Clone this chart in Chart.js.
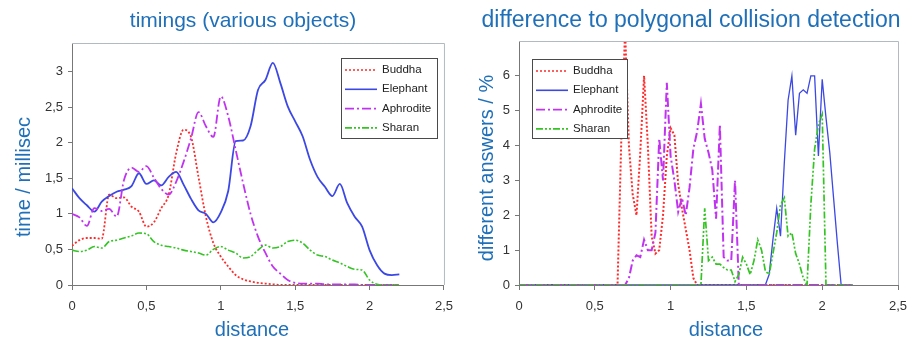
<!DOCTYPE html>
<html>
<head>
<meta charset="utf-8">
<script src="https://cdn.jsdelivr.net/npm/chart.js@4.4.1/dist/chart.umd.min.js"></script>
<style>
  html, body { margin: 0; padding: 0; background: #fff; }
  #wrap { position: relative; width: 924px; height: 342px; }
  canvas { position: absolute; top: 0; }
  #left { left: 0; }
  #right { left: 462px; }
</style>
</head>
<body>
<div id="wrap">
  <canvas id="left" width="462" height="342"></canvas>
  <canvas id="right" width="462" height="342"></canvas>
</div>
<script>
const seriesNames = ['Buddha', 'Elephant', 'Aphrodite', 'Sharan'];
const distanceTicks = [0, 0.5, 1, 1.5, 2, 2.5];
const timingTicks = [0, 0.5, 1, 1.5, 2, 2.5, 3];
const diffTicks = [0, 1, 2, 3, 4, 5, 6];

// left chart: timings, read every 0.05
const timingDistance = [0, 0.05, 0.1, 0.15, 0.2, 0.25, 0.3, 0.35, 0.4, 0.45,
  0.5, 0.55, 0.6, 0.65, 0.7, 0.75, 0.8, 0.85, 0.9, 0.95,
  1, 1.05, 1.1, 1.15, 1.2, 1.25, 1.3, 1.35, 1.4, 1.45,
  1.5, 1.55, 1.6, 1.65, 1.7, 1.75, 1.8, 1.85, 1.9, 1.95,
  2, 2.05, 2.1, 2.15, 2.2];
const timingBuddha = [0.55, 0.63, 0.66, 0.66, 0.65, 1.27, 1.22, 1.23, 1.1, 1.03,
  0.82, 0.88, 1.08, 1.27, 1.85, 2.18, 2.08, 1.52, 0.96, 0.59,
  0.4, 0.26, 0.14, 0.08, 0.05, 0.03, 0.02, 0.01, 0, 0,
  0, 0, 0, 0, 0, 0, 0, 0, 0, 0,
  0, 0, 0, 0, 0];
const timingElephant = [1.36, 1.22, 1.12, 1.03, 1.17, 1.25, 1.31, 1.34, 1.39, 1.57,
  1.42, 1.47, 1.4, 1.52, 1.59, 1.41, 1.21, 1.05, 1.0, 0.88,
  1.02, 1.32, 2.02, 2.03, 2.23, 2.74, 2.88, 3.12, 2.84, 2.51,
  2.3, 2.09, 1.76, 1.52, 1.38, 1.25, 1.42, 1.15, 0.96, 0.82,
  0.49, 0.28, 0.16, 0.14, 0.15];
const timingAphrodite = [1.0, 0.95, 0.83, 1.08, 1.04, 1.07, 0.96, 1.48, 1.65, 1.59,
  1.67, 1.51, 1.35, 1.27, 1.45, 1.73, 2.06, 2.43, 2.23, 2.08,
  2.65, 2.37, 1.9, 1.43, 1.0, 0.68, 0.45, 0.26, 0.16, 0.07,
  0.03, 0.02, 0.02, 0.02, 0.01, 0.01, 0.01, 0.01, 0.01, 0,
  0, 0, 0, 0, 0];
const timingSharan = [0.49, 0.47, 0.49, 0.54, 0.52, 0.61, 0.63, 0.66, 0.69, 0.73,
  0.72, 0.61, 0.56, 0.54, 0.52, 0.49, 0.47, 0.45, 0.42, 0.5,
  0.54, 0.49, 0.45, 0.38, 0.4, 0.49, 0.56, 0.52, 0.54, 0.61,
  0.63, 0.59, 0.49, 0.42, 0.4, 0.35, 0.31, 0.26, 0.22, 0.21,
  0.07, 0.01, 0, 0, 0];

// right chart: % different answers, read every 0.025 from 0.6
const diffDistance = [0,
  0.6, 0.625, 0.65, 0.675, 0.7, 0.725, 0.75, 0.775, 0.8, 0.825,
  0.85, 0.875, 0.9, 0.925, 0.95, 0.975, 1, 1.025, 1.05, 1.075,
  1.1, 1.125, 1.15, 1.175, 1.2, 1.225, 1.25, 1.275, 1.3, 1.325,
  1.35, 1.375, 1.4, 1.425, 1.45, 1.475, 1.5, 1.525, 1.55, 1.575,
  1.6, 1.625, 1.65, 1.675, 1.7, 1.725, 1.75, 1.775, 1.8, 1.825,
  1.85, 1.875, 1.9, 1.925, 1.95, 1.975, 2, 2.025, 2.05, 2.075,
  2.1, 2.125, 2.15, 2.175, 2.2];
const diffBuddha = [0,
  0, 0, 0, 4.2, 7.3, 4.0, 2.6, 2.0, 3.8, 6.0,
  4.0, 1.4, 0.9, 1.0, 2.0, 3.7, 4.5, 4.3, 2.9, 2.2,
  1.6, 1.0, 0.2, 0, 0, 0, 0, 0, 0, 0,
  0, 0, 0, 0, 0, 0, 0, 0, 0, 0,
  0, 0, 0, 0, 0, 0, 0, 0, 0, 0,
  0, 0, 0, 0, 0, 0, 0, 0, 0, 0,
  0, 0, 0, 0, 0];
const diffElephant = [0,
  0, 0, 0, 0, 0, 0, 0, 0, 0, 0,
  0, 0, 0, 0, 0, 0, 0, 0, 0, 0,
  0, 0, 0, 0, 0, 0, 0, 0, 0, 0,
  0, 0, 0, 0, 0, 0, 0, 0, 0, 0,
  0, 0, 0.3, 1.3, 2.2, 1.4, 3.5, 5.3, 6.0, 4.3,
  5.5, 5.6, 5.5, 6.0, 6.0, 3.7, 5.9, 4.8, 3.8, 2.5,
  1.2, 0, 0, 0, 0];
const diffAphrodite = [0,
  0, 0, 0, 0, 0, 0.2, 0.7, 0.85, 0.8, 1.3,
  1.0, 1.0, 1.5, 4.2, 3.0, 5.8, 3.7, 3.0, 2.1, 2.5,
  2.0, 2.8, 3.9, 4.4, 5.2, 4.2, 3.8, 3.3, 1.9, 4.6,
  0.8, 0.7, 0.7, 3.0, 0, 0, 0, 0, 0, 0,
  0, 0, 0, 0, 0, 0, 0, 0, 0, 0,
  0, 0, 0, 0, 0, 0, 0, 0, 0, 0,
  0, 0, 0, 0, 0];
const diffSharan = [0,
  0, 0, 0, 0, 0, 0, 0, 0, 0, 0,
  0, 0, 0, 0, 0, 0, 0, 0, 0, 0,
  0, 0, 0, 0, 0, 2.2, 0.7, 0.8, 0.6, 0.6,
  0.5, 0.43, 0.43, 0.1, 0.3, 0.8, 0.6, 0.3, 0.7, 1.3,
  1.0, 0.4, 0.3, 0.9, 1.5, 2.3, 2.5, 1.4, 1.5, 0.9,
  0.6, 0.2, 0, 2.3, 3.9, 4.6, 4.9, 0, 0, 0,
  0, 0, 0, 0, 0];

const colors = ['#ff2a2a', '#3c48e4', '#c034f0', '#34c424'];
const dashes = [[2, 2], [], [9, 3, 2, 3], [7, 2, 2, 2, 2, 2]];
const FONT = '"Liberation Sans", Arial, sans-serif';
const BLUE = '#1f70b8';

// titles, axis titles, legend box and light frame
const decor = {
  id: 'decor',
  afterDraw(chart, args, o) {
    const c = chart.ctx, a = chart.chartArea;
    c.save();
    c.strokeStyle = '#b0bac0';
    c.lineWidth = 1;
    c.beginPath();
    c.moveTo(a.left, a.top + 0.5);
    c.lineTo(a.right + 0.5, a.top + 0.5);
    c.lineTo(a.right + 0.5, a.bottom);
    c.stroke();

    c.fillStyle = BLUE;
    c.textAlign = 'center';
    c.textBaseline = 'alphabetic';
    c.font = o.titleSize + 'px ' + FONT;
    c.fillText(o.title, o.titleX, 27);
    c.font = '20px ' + FONT;
    c.fillText('distance', o.xTitleX, 336);
    c.save();
    c.translate(o.yTitleX, o.yTitleY);
    c.rotate(-Math.PI / 2);
    c.textBaseline = 'middle';
    c.fillText(o.yTitle, 0, 0);
    c.restore();

    const L = o.legend;
    c.fillStyle = '#fff';
    c.fillRect(L.x, L.y, L.w, L.h);
    c.strokeStyle = '#4a4a4a';
    c.strokeRect(L.x + 0.5, L.y + 0.5, L.w, L.h);
    c.font = '11.5px ' + FONT;
    c.textAlign = 'left';
    c.textBaseline = 'middle';
    chart.data.datasets.forEach((ds, i) => {
      const y = L.y + 12 + i * 19.3;
      c.strokeStyle = ds.borderColor;
      c.lineWidth = 1.6;
      c.setLineDash(ds.borderDash);
      c.beginPath();
      c.moveTo(L.x + 4, y);
      c.lineTo(L.x + 36, y);
      c.stroke();
      c.setLineDash([]);
      c.fillStyle = '#222';
      c.fillText(ds.label, L.x + 41, y);
    });
    c.restore();
  }
};

function makeChart(id, cfg) {
  const ctx = document.getElementById(id).getContext('2d');
  return new Chart(ctx, {
    type: 'line',
    data: {
      datasets: cfg.series.map((vals, i) => ({
        label: seriesNames[i],
        data: cfg.distance.map((d, j) => ({ x: d, y: vals[j] })),
        borderColor: colors[i],
        borderDash: dashes[i],
        borderWidth: cfg.widths[i],
        pointRadius: 0,
        fill: false,
        tension: cfg.smooth ? 0.4 : 0,
        cubicInterpolationMode: cfg.smooth ? 'monotone' : 'default',
        order: 3 - i
      }))
    },
    options: {
      responsive: false,
      animation: false,
      layout: { padding: cfg.padding },
      plugins: {
        legend: { display: false },
        tooltip: { enabled: false },
        decor: cfg.decor
      },
      scales: {
        x: {
          type: 'linear',
          min: 0,
          max: 2.5,
          afterBuildTicks: s => { s.ticks = distanceTicks.map(v => ({ value: v })); },
          afterFit: s => { s.height = 57; },
          ticks: {
            color: '#333',
            font: { family: FONT, size: 13 },
            padding: 9,
            maxRotation: 0,
            callback: v => String(v).replace('.', ',')
          },
          grid: { drawOnChartArea: false, tickLength: 5, color: '#777' },
          border: { color: '#777', width: 1 }
        },
        y: {
          min: 0,
          max: cfg.yMax,
          afterBuildTicks: s => { s.ticks = cfg.yTicks.map(v => ({ value: v })); },
          afterFit: s => { s.width = cfg.yWidth; },
          ticks: {
            color: '#333',
            font: { family: FONT, size: 13 },
            padding: 5,
            callback: v => String(v).replace('.', ',')
          },
          grid: { drawOnChartArea: false, tickLength: 4, color: '#777' },
          border: { color: '#777', width: 1 }
        }
      }
    },
    plugins: [decor]
  });
}

makeChart('left', {
  distance: timingDistance,
  series: [timingBuddha, timingElephant, timingAphrodite, timingSharan],
  widths: [1.8, 1.8, 1.8, 1.6],
  smooth: true,
  yMax: 3.4,
  yTicks: timingTicks,
  yWidth: 72,
  padding: { left: 0, top: 43, right: 16, bottom: 0 },
  decor: {
    title: 'timings (various objects)', titleSize: 21, titleX: 243,
    xTitleX: 252, yTitle: 'time / millisec', yTitleX: 24, yTitleY: 177,
    legend: { x: 341, y: 58, w: 96, h: 80 }
  }
});

makeChart('right', {
  distance: diffDistance,
  series: [diffBuddha, diffElephant, diffAphrodite, diffSharan],
  widths: [2, 1.3, 2, 1.7],
  smooth: false,
  yMax: 7,
  yTicks: diffTicks,
  yWidth: 57,
  padding: { left: 0, top: 41, right: 26, bottom: 0 },
  decor: {
    title: 'difference to polygonal collision detection', titleSize: 23, titleX: 229,
    xTitleX: 264, yTitle: 'different answers / %', yTitleX: 25, yTitleY: 168,
    legend: { x: 70, y: 59, w: 95, h: 79 }
  }
});
</script>
</body>
</html>
